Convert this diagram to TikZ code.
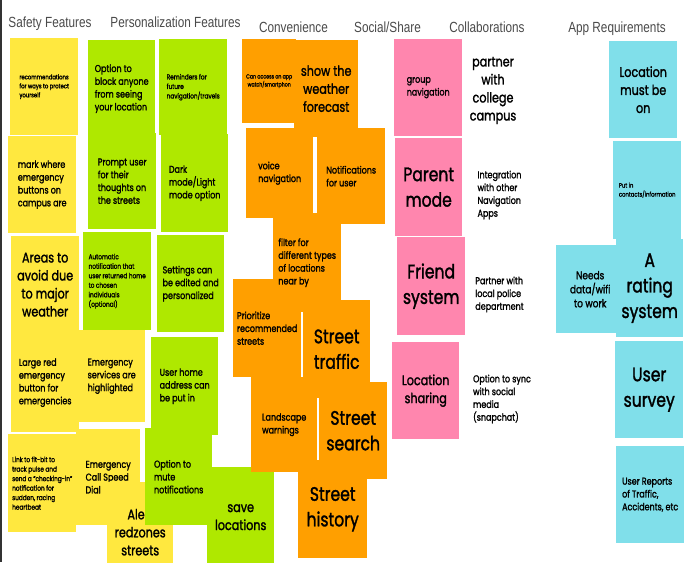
\documentclass[tikz,border=0pt]{standalone}
\usepackage{fontspec}
\newfontfamily\notefont[FakeStretch=0.8, FakeBold=1.5]{Poppins}
\newfontfamily\headfont[FakeStretch=0.8]{Liberation Sans}
\definecolor{NoteYellow}{HTML}{FFE83F}
\definecolor{NoteGreen}{HTML}{AFE800}
\definecolor{NoteOrange}{HTML}{FF9F00}
\definecolor{NotePink}{HTML}{FF86AE}
\definecolor{NoteCyan}{HTML}{80DFEA}
\definecolor{HeadGray}{HTML}{4A4A4A}
\definecolor{EdgeGray}{HTML}{333333}

\begin{document}
\begin{tikzpicture}[x=1pt, y=-1pt,
  note/.style={rectangle, fill=#1, inner sep=0pt, anchor=north west,
    minimum width=68pt, minimum height=97pt, align=left, text=black},
  freetext/.style={inner sep=0pt, align=left, text=black},
  colhead/.style={font=\headfont\fontsize{14.7}{16}\selectfont, text=HeadGray,
    inner sep=0pt, anchor=base},
  fmicro/.style={font=\notefont\fontsize{5.9}{8}\selectfont},
  ftiny/.style={font=\notefont\fontsize{6.6}{9}\selectfont},
  fsmall/.style={font=\notefont\fontsize{7.2}{9.5}\selectfont},
  fmed/.style={font=\notefont\fontsize{10}{12.8}\selectfont},
  fmid/.style={font=\notefont\fontsize{11.2}{14}\selectfont},
  flarge/.style={font=\notefont\fontsize{14}{18}\selectfont},
  fhuge/.style={font=\notefont\fontsize{19.5}{25.5}\selectfont}
]
  \useasboundingbox (0,0) rectangle (695,562);
  \fill[white] (0,0) rectangle (695,562);
  \clip (0,0) rectangle (695,562);
  \draw[line width=1.5pt, EdgeGray] (0.75,0) -- (0.75,562);

  % column titles
  \node[colhead] (hSafety) at (50,27) {Safety Features};
  \node[colhead] (hPersonal) at (175.5,27) {Personalization Features};
  \node[colhead] (hConv) at (293.5,32) {Convenience};
  \node[colhead] (hSocial) at (387.5,32) {Social/Share};
  \node[colhead] (hCollab) at (487,32) {Collaborations};
  \node[colhead] (hApp) at (617,32) {App Requirements};

  % safety
  \node[note=NoteYellow, ftiny] (safeTips) at (10,38) {recommendations\\for ways to protect\\yourself};
  \node[note=NoteYellow, fmed] (markButtons) at (8,136) {mark where\\emergency\\buttons on\\campus are};
  \node[note=NoteYellow, flarge, align=center] (avoidAreas) at (11,236) {Areas to\\avoid due\\to major\\weather};
  \node[note=NoteYellow, fmed, minimum height=99pt] (redButton) at (11,333) {Large red\\emergency\\button for\\emergencies};
  \node[note=NoteYellow, fmed, minimum width=67pt, minimum height=92pt] (services) at (78,330) {Emergency\\services are\\highlighted};
  \node[note=NoteYellow, fsmall, minimum height=98pt] (fitbit) at (8,434) {Link to fit-bit to\\track pulse and\\send a “checking-in”\\notification for\\sudden, racing\\heartbeat};
  \node[note=NoteYellow, fmed, minimum width=64pt, minimum height=96pt] (speedDial) at (76,429) {Emergency\\Call Speed\\Dial};
  \node[note=NoteYellow, flarge, align=center, minimum width=66pt, minimum height=100pt] (redzones) at (107,482) {Alert\\redzones\\streets};

  % personalization
  \node[note=NoteGreen, fmed, minimum width=67pt] (blockUser) at (88,40) {Option to\\block anyone\\from seeing\\your location};
  \node[note=NoteGreen, fsmall, minimum height=96pt] (reminders) at (159,39) {Reminders for\\future\\navigation/travels};
  \node[note=NoteGreen, fmed, minimum height=96pt] (prompt) at (88,133) {Prompt user\\for their\\thoughts on\\the streets};
  \node[note=NoteGreen, fmed, minimum width=67pt, minimum height=98pt] (darkMode) at (161,134) {Dark\\mode/Light\\mode option};
  \node[note=NoteGreen, fsmall, minimum height=98pt] (autoNotify) at (83,232) {Automatic\\notification that\\user returned home\\to chosen\\individuals\\(optional)};
  \node[note=NoteGreen, fmed, minimum width=67pt] (settings) at (157,235) {Settings can\\be edited and\\personalized};
  \node[note=NoteGreen, fmed, minimum width=67pt, minimum height=98pt] (homeAddr) at (151,337) {User home\\address can\\be put in};
  \node[note=NoteGreen, fmed, minimum width=67pt] (mute) at (145,428) {Option to\\mute\\notifications};
  \node[note=NoteGreen, flarge, align=center, minimum width=67pt, minimum height=100pt] (saveLoc) at (207,467) {save\\locations};

  % convenience
  \node[note=NoteOrange, fmicro, align=center, minimum width=54pt, minimum height=84pt] (watchApp) at (242,39) {Can access on app\\watch/smartphon};
  \node[note=NoteOrange, flarge, align=center, minimum width=64pt] (weather) at (294,40) {show the\\weather\\forecast};
  \node[note=NoteOrange, fmed, minimum height=98pt] (prioritize) at (233,279) {Prioritize\\recommended\\streets};
  \node[note=NoteOrange, fmed, minimum width=66pt, minimum height=95pt] (landscape) at (251,377) {Landscape\\warnings};
  \node[note=NoteOrange, fhuge, align=center] (search) at (319,382) {Street\\search};
  \node[note=NoteOrange, fhuge, align=center, minimum width=67pt, minimum height=98pt] (traffic) at (303,300) {Street\\traffic};
  \node[note=NoteOrange, fmed, minimum height=99pt] (filter) at (273,213) {filter for\\different types\\of locations\\near by};
  \node[note=NoteOrange, fmed, minimum width=67pt, minimum height=90pt] (voiceNav) at (246,128) {voice\\navigation};
  \node[note=NoteOrange, fmed, minimum height=96pt] (notify) at (317,128) {Notifications\\for user};
  \node[note=NoteOrange, fhuge, align=center, minimum width=69pt, minimum height=98pt] (history) at (298,460) {Street\\history};

  % social / share
  \node[note=NotePink, fmed] (groupNav) at (394,39) {group\\navigation};
  \node[note=NotePink, fhuge, align=center, minimum width=67pt, minimum height=98pt] (parent) at (395,138) {Parent\\mode};
  \node[note=NotePink, fhuge, align=center, minimum height=98pt] (friend) at (397,237) {Friend\\system};
  \node[note=NotePink, flarge, align=center, minimum width=67pt] (locShare) at (392,342) {Location\\sharing};

  % collaborations
  \node[freetext, flarge, align=center] (partnerCampus) at (493,90.5) {partner\\with\\college\\campus};
  \node[freetext, fmed] (integration) at (499.5,195) {Integration\\with other\\Navigation\\Apps};
  \node[freetext, fmed] (police) at (499.5,294.5) {Partner with\\local police\\department};
  \node[freetext, fmed] (syncSocial) at (502,399) {Option to sync\\with social\\media\\(snapchat)};

  % app requirements
  \node[note=NoteCyan, flarge, align=center] (locOn) at (609,41) {Location\\must be\\on};
  \node[note=NoteCyan, ftiny, minimum height=98pt] (contacts) at (613,141) {Put in\\contacts/information};
  \node[note=NoteCyan, fmid, align=center, minimum height=88pt] (dataWifi) at (556,245) {Needs\\data/wifi\\to work};
  \node[note=NoteCyan, fhuge, align=center, minimum width=67pt, minimum height=98pt] (rating) at (616,239) {A\\rating\\system};
  \node[note=NoteCyan, fhuge, align=center] (survey) at (615,341) {User\\survey};
  \node[note=NoteCyan, fmed] (reports) at (616,446) {User Reports\\of Traffic,\\Accidents, etc};
\end{tikzpicture}
\end{document}
